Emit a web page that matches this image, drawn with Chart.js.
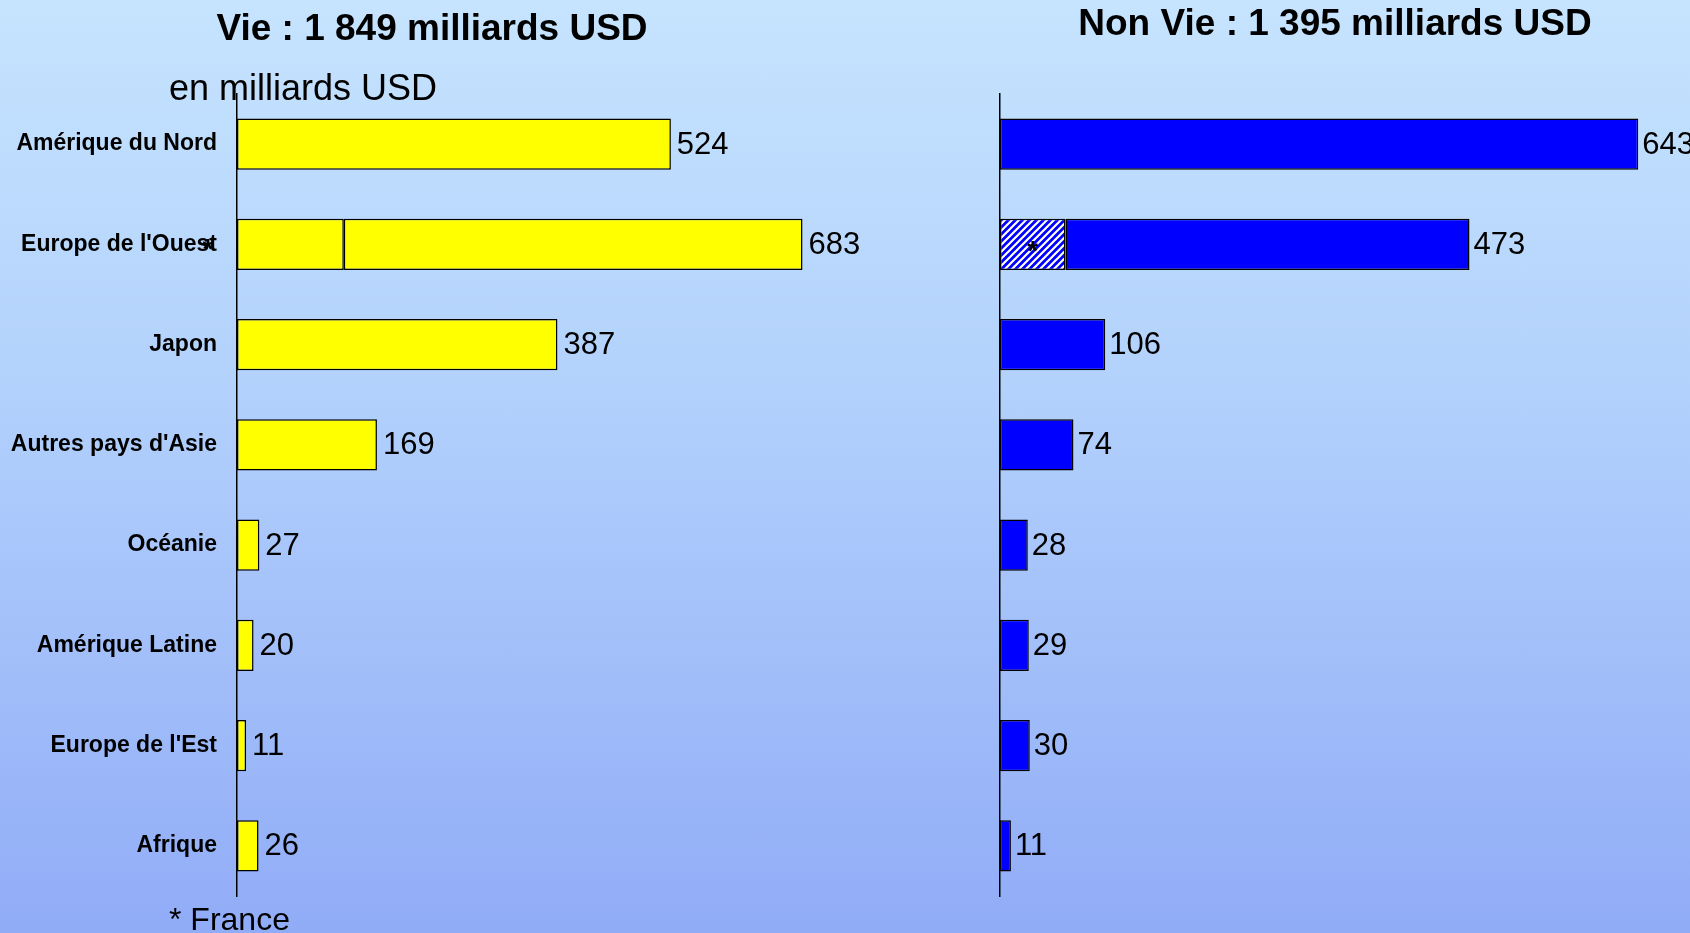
<!DOCTYPE html>
<html lang="fr">
<head>
<meta charset="utf-8">
<title>Primes Vie / Non Vie par région</title>
<script src="https://cdn.jsdelivr.net/npm/chart.js@4/dist/chart.umd.min.js"></script>
<style>
    html, body {
        margin: 0;
        padding: 0;
        width: 1690px;
        height: 933px;
        overflow: hidden;
    }
    body {
        position: relative;
        background: linear-gradient(to bottom, #c6e4fe 0%, #b3d2fc 40%, #91acf7 100%);
        font-family: "Liberation Sans", Arial, sans-serif;
        color: #000;
    }
    .txt {
        position: absolute;
        line-height: 1;
        white-space: nowrap;
    }
    .titre {
        font-size: 37px;
        font-weight: bold;
        text-align: center;
    }
    #leftChart { position: absolute; left: 0; top: 0; }
    #rightChart { position: absolute; left: 980px; top: 0; }
</style>
</head>
<body>
<canvas id="leftChart" width="864" height="933"></canvas>
<canvas id="rightChart" width="710" height="933"></canvas>

<div class="txt titre" style="left:0; width:864px; top:9px;">Vie : 1 849 milliards USD</div>
<div class="txt titre" style="left:980px; width:710px; top:4px;">Non Vie : 1 395 milliards USD</div>
<div class="txt" style="left:169px; top:70px; font-size:36px;">en milliards USD</div>
<div class="txt" style="left:169px; top:903px; font-size:32px;">* France</div>

<script>
// =============================================
// Données (milliards USD)
// =============================================

const regions = [
    "Amérique du Nord",
    "Europe de l'Ouest",
    "Japon",
    "Autres pays d'Asie",
    "Océanie",
    "Amérique Latine",
    "Europe de l'Est",
    "Afrique",
];
const vieTotals = [524, 683, 387, 169, 27, 20, 11, 26];
const vieFrance = [null, 129, null, null, null, null, null, null];
const nonVieTotals = [643, 473, 106, 74, 28, 29, 30, 11];
const nonVieFrance = [null, 66, null, null, null, null, null, null];

// =============================================
// Motif hachuré (part France, Non Vie)
// =============================================

function makeHatch() {
    var size = 7;
    var c = document.createElement("canvas");
    c.width = size;
    c.height = size;
    var g = c.getContext("2d");
    g.fillStyle = "#0000ff";
    g.fillRect(0, 0, size, size);
    g.strokeStyle = "#ffffff";
    g.lineWidth = 2.2;
    g.beginPath();
    g.moveTo(0, size); g.lineTo(size, 0);
    g.moveTo(-size / 2, size / 2); g.lineTo(size / 2, -size / 2);
    g.moveTo(size / 2, size * 1.5); g.lineTo(size * 1.5, size / 2);
    g.stroke();
    return g.createPattern(c, "repeat");
}

// étiquettes de valeurs + astérisque France
const valueLabels = {
    id: "valueLabels",
    afterDatasetsDraw(chart, args, opts) {
        var ctx = chart.ctx;
        var restMeta = chart.getDatasetMeta(1);
        ctx.save();
        ctx.fillStyle = "#000";
        ctx.textBaseline = "middle";
        ctx.textAlign = "left";
        ctx.font = '31px "Liberation Sans", Arial, sans-serif';
        restMeta.data.forEach(function(bar, i) {
            ctx.fillText(String(opts.totals[i]), bar.x + opts.gap, bar.y + 1);
        });

        var fr = chart.getDatasetMeta(0).data[1];
        ctx.textAlign = "center";
        ctx.font = 'bold 28px "Liberation Sans", Arial, sans-serif';
        var sx = opts.starX === "center" ? (fr.base + fr.x) / 2 : chart.chartArea.left + opts.starX;
        ctx.fillText("*", sx, fr.y + opts.starDy);
        ctx.restore();
    },
};

function restOf(totals, france) {
    return totals.map(function(t, i) {
        return t - (france[i] || 0);
    });
}

function buildChart(canvasId, cfg) {
    var ctx = document.getElementById(canvasId);
    return new Chart(ctx, {
        type: "bar",
        data: {
            labels: regions,
            datasets: [{
                    label: "France",
                    data: cfg.france,
                    backgroundColor: cfg.franceColor,
                    borderColor: "#000",
                    borderWidth: 1.5,
                    borderSkipped: false,
                    barPercentage: 0.51,
                    categoryPercentage: 1,
                },
                {
                    label: "Reste",
                    data: restOf(cfg.totals, cfg.france),
                    backgroundColor: cfg.color,
                    borderColor: "#000",
                    borderWidth: 1.5,
                    borderSkipped: false,
                    barPercentage: 0.51,
                    categoryPercentage: 1,
                },
            ],
        },
        options: {
            indexAxis: "y",
            responsive: false,
            animation: false,
            layout: {
                padding: { top: 94, bottom: 37, left: 0, right: cfg.padRight },
            },
            plugins: {
                legend: { display: false },
                tooltip: { enabled: false },
                valueLabels: {
                    totals: cfg.totals,
                    gap: cfg.gap,
                    starX: cfg.starX,
                    starDy: cfg.starDy,
                },
            },
            scales: {
                x: {
                    display: false,
                    stacked: true,
                    min: 0,
                    max: cfg.max,
                },
                y: {
                    stacked: true,
                    grid: { display: false, drawTicks: false },
                    border: { display: true, color: "#000", width: 1.5 },
                    ticks: {
                        display: cfg.showLabels,
                        color: "#000",
                        padding: 20,
                        font: { family: '"Liberation Sans", Arial, sans-serif', size: 23, weight: "bold" },
                    },
                    afterFit: function(scale) {
                        scale.width = cfg.axisX;
                    },
                },
            },
        },
        plugins: [valueLabels],
    });
}

buildChart("leftChart", {
    totals: vieTotals,
    france: vieFrance,
    color: "#ffff00",
    franceColor: "#ffff00",
    max: 750,
    padRight: 6,
    axisX: 237,
    showLabels: true,
    gap: 6,
    starX: -29,
    starDy: 6,
});

buildChart("rightChart", {
    totals: nonVieTotals,
    france: nonVieFrance,
    color: "#0000ff",
    franceColor: makeHatch(),
    max: 678,
    padRight: 17,
    axisX: 20,
    showLabels: false,
    gap: 4,
    starX: "center",
    starDy: 8,
});
</script>
</body>
</html>
